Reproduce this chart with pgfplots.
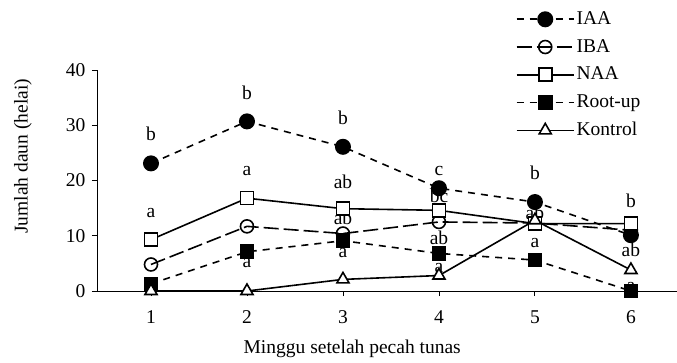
\documentclass[border=0pt]{standalone}
\usepackage{fontspec}
\setmainfont{Liberation Serif}
\usepackage{pgfplots}
\pgfplotsset{compat=1.18}
\begin{document}
\fontsize{19}{22}\selectfont
\begin{tikzpicture}[x=1pt,y=1pt]
\useasboundingbox (-97,-71) rectangle (580,291);
\begin{axis}[
  at={(0,0)}, anchor=south west,
  scale only axis, width=580pt, height=221pt,
  xmin=0.4375, xmax=6.48, ymin=0, ymax=40,
  axis x line*=bottom, axis y line*=left,
  axis line style={line width=0.9pt},
  xtick={1,2,3,4,5,6}, ytick={0,10,20,30,40},
  tick align=outside, major tick length=5pt,
  tick style={line width=0.9pt, black},
  /pgf/number format/assume math mode=true,
  tick label style={font=\fontsize{19.5}{22}\selectfont},
  xticklabel style={yshift=-8pt},
  label style={font=\fontsize{19.5}{22}\selectfont},
  xlabel={Minggu setelah pecah tunas},
  ylabel={Jumlah daun (helai)},
  xlabel style={at={(axis description cs:0.44,-0.262)}, anchor=center},
  ylabel style={at={(axis description cs:-0.1276,0.609)}, anchor=center},
  clip=false,
  legend style={draw=none, fill=none, at={(axis cs:4.80,51.0)}, anchor=north west,
    font=\fontsize{19.5}{22}\selectfont, inner sep=0pt, row sep=8pt,
    cells={anchor=west}},
  legend image code/.code={\draw[mark repeat=2,mark phase=2] plot coordinates {(0pt,0pt) (28.5pt,0pt) (57pt,0pt)};},
  every axis plot/.append style={line width=1.6pt},
]
% significance letters
\addplot[forget plot, draw=none, mark=none, nodes near coords, point meta=explicit symbolic,
  every node near coord/.append style={anchor=center, inner sep=0pt, yshift=0pt, font=\fontsize{19.5}{22}\selectfont, line width=0pt}]
  table[meta=lab] {
x y lab
1 28.5 b
1 14.1 a
2 35.8 b
2 21.8 a
2 5.0 a
3 31.4 b
3 19.7 ab
3 13.3 ab
3 6.8 a
4 21.7 c
4 17.3 bc
4 9.7 ab
4 4.1 a
5 21.3 b
5 14.1 ab
5 8.6 a
6 16.4 b
6 7.4 ab
6 0.7 a
};
\addplot[black, dash pattern=on 7pt off 6pt, mark=*, mark size=7.2pt, mark options={solid, fill=black}]
  coordinates {(1,23.1) (2,30.7) (3,26.1) (4,18.6) (5,16.1) (6,10.1)};
\addlegendentry{IAA}
\addplot[black, dash pattern=on 15pt off 5pt, mark=o, mark size=6.5pt, mark options={solid, fill=white}]
  coordinates {(1,4.8) (2,11.7) (3,10.4) (4,12.5) (5,12.3) (6,11.0)};
\addlegendentry{IBA}
\addplot[black, solid, mark=square*, mark size=6.5pt, mark options={solid, fill=white}]
  coordinates {(1,9.3) (2,16.8) (3,14.9) (4,14.6) (5,12.2) (6,12.2)};
\addlegendentry{NAA}
\addplot[black, dash pattern=on 7pt off 6pt, mark=square*, mark size=6.5pt, mark options={solid, fill=black}]
  coordinates {(1,1.3) (2,7.1) (3,9.1) (4,6.8) (5,5.6) (6,0)};
\addlegendentry{Root-up}
\addplot[black, solid, mark=triangle*, mark size=7pt, mark options={solid, fill=white}]
  coordinates {(1,0) (2,0) (3,2.1) (4,2.8) (5,12.8) (6,3.8)};
\addlegendentry{Kontrol}
\end{axis}
\end{tikzpicture}
\end{document}
